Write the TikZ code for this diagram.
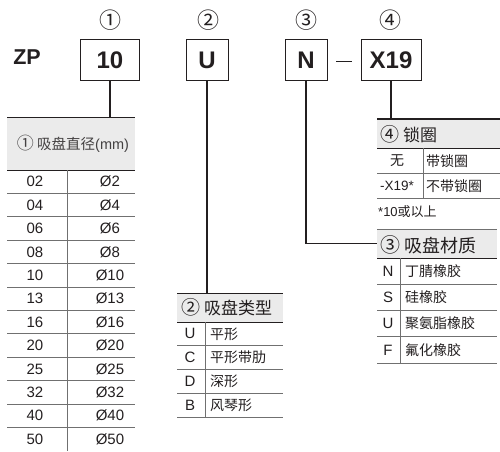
\documentclass[tikz,border=0pt]{standalone}
\usepackage{fontspec}
\setmainfont{Liberation Sans}
\newfontfamily\cjk{Noto Sans CJK SC}
\definecolor{ink}{HTML}{231F20}
\definecolor{hdr}{HTML}{EBEBEB}
\definecolor{rulegray}{HTML}{707070}
\newcommand{\bigc}[1]{{\fontsize{19}{20}\selectfont #1}}
\begin{document}
\begin{tikzpicture}[x=1pt,y=-1pt,
  codebox/.style={draw=ink,line width=0.9pt,minimum height=41pt,inner sep=0pt,
    font=\fontsize{24}{26}\selectfont\bfseries,text=ink},
  circnum/.style={font=\cjk\fontsize{22}{24}\selectfont,text=ink,inner sep=0pt},
  hdrbox/.style={fill=hdr,draw=none,inner sep=0pt,anchor=north west},
  hdrtext/.style={text=ink,inner sep=0pt,font=\cjk\fontsize{17}{20}\selectfont},
  cell/.style={text=ink,inner sep=0pt,font=\fontsize{15}{18}\selectfont},
  zhcell/.style={text=ink,inner sep=0pt,font=\cjk\fontsize{14}{17}\selectfont,anchor=west},
  link/.style={draw=ink,line width=1.1pt},
  hline/.style={draw=ink,line width=1.3pt},
  rowline/.style={draw=rulegray,line width=0.8pt},
  colline/.style={draw=rulegray,line width=1pt}]
\useasboundingbox (0,0) rectangle (500,451);

% ---- code line ----
\node[text=ink,font=\fontsize{21.5}{24}\selectfont\bfseries,inner sep=0pt] (zp) at (27,57) {ZP};
\node[codebox,minimum width=59pt] (b1) at (110,60) {10};
\node[codebox,minimum width=42pt] (b2) at (207,60) {U};
\node[codebox,minimum width=42pt] (b3) at (306,60) {N};
\node[codebox,minimum width=60pt] (b4) at (391,60) {X19};
\draw[draw=ink,line width=1pt] ([xshift=9pt,yshift=-1.5pt]b3.east) -- ([xshift=-9pt,yshift=-1.5pt]b4.west);
\node[circnum] (n1) at (110,20) {①};
\node[circnum] (n2) at (208,20) {②};
\node[circnum] (n3) at (306,20) {③};
\node[circnum] (n4) at (390,20) {④};

% ---- table 1 ----
\node[hdrbox,minimum width=128pt,minimum height=53pt] (h1) at (7,117) {};
\node[hdrtext,font=\cjk\fontsize{14.5}{18}\selectfont,text=ink!85] (h1t) at (73,144) {{\fontsize{17}{18}\selectfont ①} 吸盘直径\fontspec{Liberation Sans}(mm)};
\draw[link] (b1.south) -- (b1.south |- h1.north);
\draw[draw=ink,line width=1pt] (h1.north west) -- (h1.north east);
\draw[hline] (h1.south west) -- (h1.south east);
\draw[colline] (67,170) -- (67,451);
\foreach \k in {1,...,11} \draw[rowline] (7,{170+23.4*\k}) -- (135,{170+23.4*\k});
\foreach \a/\b [count=\i] in {02/2,04/4,06/6,08/8,10/10,13/13,16/16,20/20,25/25,32/32,40/40,50/50} {
  \node[cell] (t1a\i) at (35,{170+23.4*(\i-0.5)}) {\a};
  \node[cell] (t1b\i) at (110,{170+23.4*(\i-0.5)}) {Ø\b};
}

% ---- table 2 ----
\node[hdrbox,minimum width=106pt,minimum height=29pt] (h2) at (177,293) {};
\node[hdrtext,anchor=west] (h2t) at (181,307.5) {\bigc{②} 吸盘类型};
\draw[link] (b2.south) -- (b2.south |- h2.north);
\draw[draw=ink,line width=1pt] (h2.north west) -- (h2.north east);
\draw[hline] (h2.south west) -- (h2.south east);
\draw[colline] (205,322) -- (205,417);
\foreach \k in {1,...,4} \draw[rowline] (177,{322+23.75*\k}) -- (283,{322+23.75*\k});
\foreach \a/\b [count=\i] in {U/平形,C/平形带肋,D/深形,B/风琴形} {
  \node[cell] (t2a\i) at (190,{322+23.75*(\i-0.5)}) {\a};
  \node[zhcell] (t2b\i) at (210,{322+23.75*(\i-0.5)}) {\b};
}

% ---- table 4 ----
\node[hdrbox,minimum width=123pt,minimum height=29pt] (h4) at (377,119) {};
\node[hdrtext,anchor=west] (h4t) at (380,134) {\bigc{④} 锁圈};
\draw[link] (b4.south) -- (b4.south |- h4.north);
\draw[draw=ink,line width=1.1pt] (h4.north west) -- (h4.north east);
\draw[hline] (h4.south west) -- (h4.south east);
\draw[colline] (423,148) -- (423,198);
\draw[rowline] (377,173) -- (500,173);
\draw[rowline] (377,198) -- (500,198);
\node[text=ink,inner sep=0pt,font=\cjk\fontsize{14}{17}\selectfont] (t4a1) at (397,161) {无};
\node[zhcell] (t4b1) at (426,161) {带锁圈};
\node[cell,font=\fontsize{13.5}{16}\selectfont] (t4a2) at (397,186) {-X19*};
\node[zhcell] (t4b2) at (426,186) {不带锁圈};
\node[text=ink,inner sep=0pt,anchor=west,font=\cjk\fontsize{13}{16}\selectfont] (t4n) at (378,212) {{\fontspec{Liberation Sans}*10}或以上};

% ---- table 3 ----
\node[hdrbox,minimum width=120pt,minimum height=29pt] (h3) at (377,229) {};
\node[hdrtext,anchor=west,font=\cjk\fontsize{18}{21}\selectfont] (h3t) at (380,245) {{\fontsize{20}{21}\selectfont ③} 吸盘材质};
\draw[link] (b3.south) |- (h3.west);
\draw[draw=rulegray,line width=1pt] (h3.north west) -- (h3.north east);
\draw[hline] (h3.south west) -- (h3.south east);
\draw[colline] (400.5,258) -- (400.5,363);
\foreach \k in {1,...,4} \draw[rowline] (377,{258+26.25*\k}) -- (497,{258+26.25*\k});
\foreach \a/\b [count=\i] in {N/丁腈橡胶,S/硅橡胶,U/聚氨脂橡胶,F/氟化橡胶} {
  \node[cell] (t3a\i) at (388,{258+26.25*(\i-0.5)}) {\a};
  \node[zhcell] (t3b\i) at (405,{258+26.25*(\i-0.5)}) {\b};
}
\end{tikzpicture}
\end{document}
